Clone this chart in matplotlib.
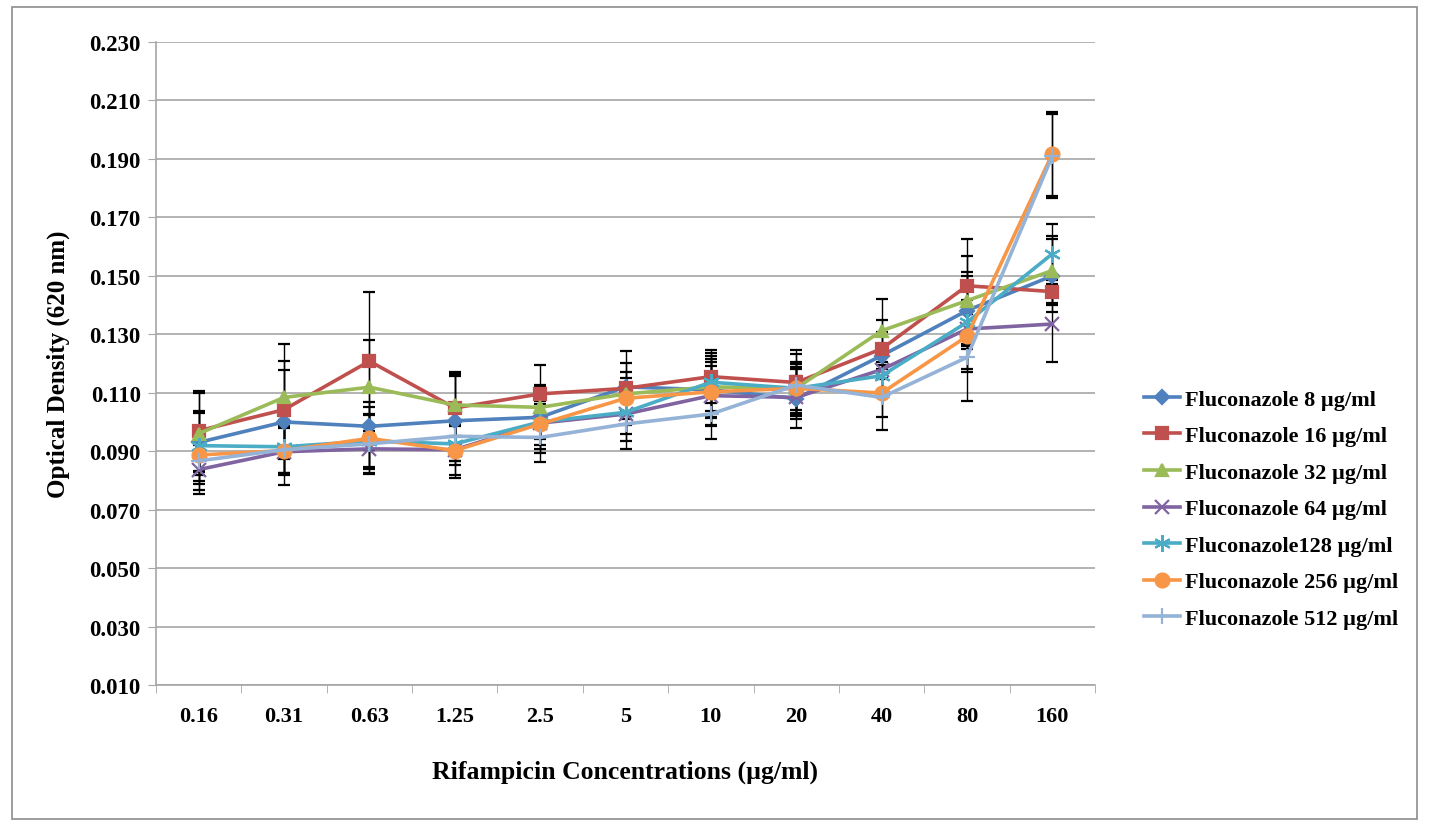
import numpy as np
import matplotlib
matplotlib.use("Agg")
import matplotlib.pyplot as plt
from matplotlib.patches import Rectangle
from matplotlib.ticker import FixedLocator, FormatStrFormatter

# ---------------- data ----------------
concentrations = ["0.16", "0.31", "0.63", "1.25", "2.5", "5", "10", "20", "40", "80", "160"]

flu_8 = [0.0930, 0.1000, 0.0985, 0.1004, 0.1016, 0.1120, 0.1110, 0.1080, 0.1227, 0.1381, 0.1500]
flu_8_err = [0.0100, 0.0177, 0.0082, 0.0152, 0.0109, 0.0081, 0.0094, 0.0102, 0.0080, 0.0133, 0.0125]

flu_16 = [0.0970, 0.1042, 0.1208, 0.1048, 0.1096, 0.1115, 0.1155, 0.1135, 0.1250, 0.1466, 0.1446]
flu_16_err = [0.0137, 0.0168, 0.0238, 0.0124, 0.0099, 0.0127, 0.0090, 0.0110, 0.0100, 0.0160, 0.0040]

flu_32 = [0.0960, 0.1084, 0.1119, 0.1058, 0.1050, 0.1096, 0.1120, 0.1115, 0.1312, 0.1415, 0.1518]
flu_32_err = [0.0140, 0.0183, 0.0160, 0.0106, 0.0070, 0.0074, 0.0107, 0.0091, 0.0108, 0.0154, 0.0119]

flu_64 = [0.0837, 0.0898, 0.0908, 0.0905, 0.0996, 0.1027, 0.1090, 0.1084, 0.1179, 0.1318, 0.1335]
flu_64_err = [0.0084, 0.0080, 0.0083, 0.0085, 0.0075, 0.0068, 0.0103, 0.0074, 0.0070, 0.0050, 0.0131]

flu_128 = [0.0919, 0.0915, 0.0935, 0.0925, 0.1000, 0.1033, 0.1136, 0.1115, 0.1158, 0.1341, 0.1575]
flu_128_err = [0.0120, 0.0090, 0.0090, 0.0060, 0.0060, 0.0097, 0.0100, 0.0074, 0.0070, 0.0160, 0.0102]

flu_256 = [0.0887, 0.0902, 0.0944, 0.0902, 0.0993, 0.1081, 0.1103, 0.1115, 0.1099, 0.1293, 0.1917]
flu_256_err = [0.0100, 0.0118, 0.0106, 0.0095, 0.0099, 0.0070, 0.0112, 0.0083, 0.0083, 0.0123, 0.0143]

flu_512 = [0.0867, 0.0905, 0.0925, 0.0951, 0.0947, 0.0993, 0.1027, 0.1126, 0.1084, 0.1221, 0.1910]
flu_512_err = [0.0100, 0.0080, 0.0102, 0.0083, 0.0083, 0.0086, 0.0085, 0.0107, 0.0110, 0.0148, 0.0144]

labels = ["Fluconazole 8 µg/ml", "Fluconazole 16 µg/ml", "Fluconazole 32 µg/ml",
          "Fluconazole 64 µg/ml", "Fluconazole128 µg/ml", "Fluconazole 256 µg/ml",
          "Fluconazole 512 µg/ml"]
y_ticks = [0.010, 0.030, 0.050, 0.070, 0.090, 0.110, 0.130, 0.150, 0.170, 0.190, 0.210, 0.230]

series = [flu_8, flu_16, flu_32, flu_64, flu_128, flu_256, flu_512]
errors = [flu_8_err, flu_16_err, flu_32_err, flu_64_err, flu_128_err, flu_256_err, flu_512_err]

# Excel 2007 palette / markers
colors = ["#4F81BD", "#C0504D", "#9BBB59", "#8064A2", "#4BACC6", "#F79646", "#95B3D7"]
markers = ["D", "s", "^", "x", (6, 2, 0), "o", "+"]
msizes = [7, 9, 9, 10, 12, 10, 11]

plt.rcParams['font.family'] = ['Liberation Serif', 'DejaVu Serif']
plt.rcParams['font.weight'] = 'bold'

fig = plt.figure(figsize=(14.29, 8.28), dpi=100)
ax = fig.add_axes([156 / 1429, 1 - 686 / 828, (1095 - 156) / 1429, (686 - 43) / 828])

x = np.arange(len(concentrations))
handles = []
for vals, err, col, mk, ms, lab in zip(series, errors, colors, markers, msizes, labels):
    cont = ax.errorbar(x, vals, yerr=err, color=col, marker=mk, markersize=ms,
                       markeredgecolor=col, markeredgewidth=1.6, linewidth=2.6,
                       ecolor="black", elinewidth=1.0, capsize=4, capthick=0.9,
                       label=lab)
    handles.append(cont[0])

ax.set_xlim(-0.5, len(concentrations) - 0.5)
ax.set_ylim(0.010, 0.230)
ax.yaxis.set_major_locator(FixedLocator(y_ticks))
ax.yaxis.set_major_formatter(FormatStrFormatter('%.3f'))
ax.grid(axis='y', color='#A6A6A6', linewidth=1.2)
ax.set_axisbelow(True)

ax.set_xticks(x)
ax.set_xticklabels(concentrations)
ax.set_xticks(np.arange(-0.5, len(concentrations)), minor=True)
ax.tick_params(axis='x', which='major', length=0, pad=15, labelsize=16)
ax.tick_params(axis='x', which='minor', length=6, color='#A6A6A6')
ax.tick_params(axis='y', length=6, color='#A6A6A6', pad=5, labelsize=16.5)

for side in ['top', 'right']:
    ax.spines[side].set_visible(False)
for side in ['left', 'bottom']:
    ax.spines[side].set_color('#A6A6A6')
    ax.spines[side].set_linewidth(1.2)

ax.set_xlabel("Rifampicin Concentrations (µg/ml)", fontsize=18.5, fontweight='bold', labelpad=24)
ax.set_ylabel("Optical Density (620 nm)", fontsize=18, fontweight='bold', labelpad=14)

leg = ax.legend(handles, labels, loc='center left',
                bbox_to_anchor=(1124 / 1429, 1 - 510 / 828),
                bbox_transform=fig.transFigure, frameon=False, fontsize=16,
                labelspacing=0.72, handlelength=1.6, handletextpad=0.25)

fig.patches.append(Rectangle((12 / 1429, 1 - 820 / 828), 1405 / 1429, 812 / 828,
                             transform=fig.transFigure, fill=False,
                             edgecolor='#8C8C8C', linewidth=1.2))

fig.savefig("out.png", dpi=100)
